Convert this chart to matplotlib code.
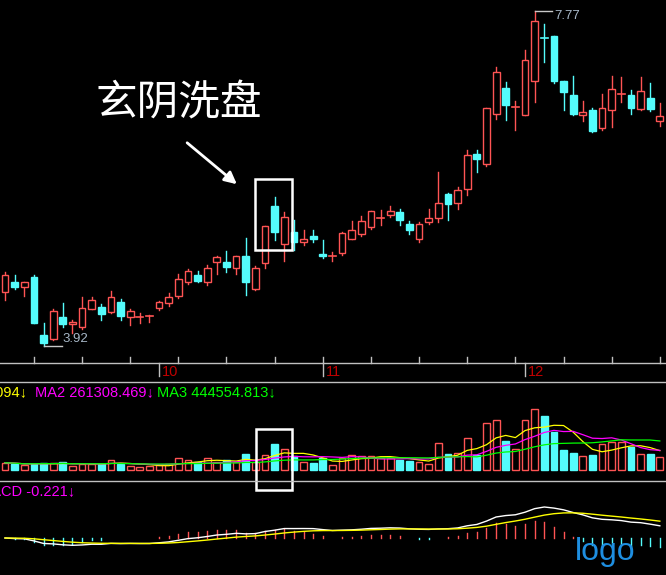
import matplotlib
matplotlib.use("Agg")
import matplotlib.pyplot as plt
from matplotlib.patches import Rectangle
import numpy as np
import pandas as pd

opens  = [4.54,4.66,4.60,4.71,4.05,4.00,4.25,4.17,4.14,4.35,4.37,4.31,4.43,4.25,4.24,4.25,4.36,4.42,4.49,4.66,
          4.74,4.66,4.89,4.89,4.82,4.95,4.57,4.87,5.53,5.09,5.23,5.11,5.18,4.98,4.94,4.99,5.15,5.21,5.29,5.38,
          5.43,5.46,5.32,5.15,5.35,5.39,5.67,5.56,5.72,6.13,6.01,6.59,6.89,6.66,6.58,6.97,7.47,7.48,6.97,6.81,
          6.58,6.63,6.43,6.63,6.81,6.81,6.64,6.77,6.51]
highs  = [4.77,4.74,4.66,4.74,4.18,4.35,4.41,4.22,4.48,4.48,4.40,4.55,4.46,4.35,4.30,4.28,4.44,4.53,4.75,4.80,
          4.78,4.85,4.95,5.01,4.96,5.16,4.84,5.30,5.63,5.46,5.37,5.25,5.25,5.14,5.00,5.23,5.36,5.41,5.47,5.48,
          5.53,5.50,5.36,5.35,5.50,5.92,5.68,5.75,6.17,6.17,6.66,7.13,6.95,6.74,7.32,7.77,7.62,7.48,6.97,7.02,
          6.74,6.66,6.82,7.02,7.01,6.86,7.01,6.94,6.71]
lows   = [4.45,4.58,4.49,4.19,3.92,3.99,4.14,4.07,4.12,4.34,4.22,4.30,4.22,4.16,4.19,4.20,4.33,4.38,4.47,4.63,
          4.65,4.62,4.75,4.77,4.75,4.51,4.56,4.82,5.14,4.90,5.02,5.08,5.11,4.93,4.90,4.97,5.15,5.19,5.26,5.31,
          5.40,5.31,5.21,5.11,5.32,5.34,5.37,5.49,5.66,5.92,5.99,6.53,6.52,6.40,6.57,6.73,7.18,6.94,6.63,6.57,
          6.51,6.38,6.40,6.44,6.73,6.59,6.63,6.62,6.45]
closes = [4.74,4.60,4.65,4.19,3.96,4.32,4.17,4.20,4.36,4.45,4.29,4.48,4.26,4.32,4.25,4.26,4.42,4.48,4.69,4.78,
          4.67,4.82,4.94,4.83,4.95,4.65,4.82,5.30,5.23,5.40,5.11,5.15,5.15,4.95,4.95,5.22,5.25,5.36,5.47,5.39,
          5.47,5.37,5.25,5.32,5.39,5.56,5.55,5.71,6.12,6.07,6.66,7.07,6.69,6.67,7.21,7.65,7.46,6.97,6.84,6.59,
          6.61,6.39,6.66,6.87,6.82,6.65,6.85,6.64,6.56]
volumes = [26,23,18,23,24,24,28,14,23,22,23,35,23,14,11,14,18,20,42,35,
           28,42,28,35,28,58,28,54,94,74,49,28,25,42,17,42,54,49,52,42,
           44,35,32,28,22,98,58,60,115,54,168,181,104,76,180,218,194,136,72,61,
           49,54,92,102,102,84,56,59,47]
month_labels = ["10", "11", "12"]
month_idx = [16, 33, 54]

W, H = 666, 575
RED, CYAN = "#ff5454", "#54fcfc"
fig = plt.figure(figsize=(W/100, H/100), dpi=100, facecolor="black")

def ax_px(y0, y1):
    a = fig.add_axes([0, 1 - y1/H, 1, (y1 - y0)/H])
    a.set_facecolor("black"); a.axis("off")
    a.set_xlim(-0.52, 68.64)
    return a

n = len(closes)
x = np.arange(n)
up = [c >= o for o, c in zip(opens, closes)]

# main
ax = ax_px(0, 363)
ax.set_ylim(3.92 - 17/87, 3.92 + 346/87)
for i in range(n):
    col = RED if up[i] else CYAN
    ax.plot([i, i], [lows[i], highs[i]], color=col, lw=1, zorder=1)
    b0, b1 = min(opens[i], closes[i]), max(opens[i], closes[i])
    if b1 - b0 < 0.012:
        ax.plot([i-0.35, i+0.35], [closes[i]]*2, color=col, lw=1.2, zorder=2)
    else:
        ax.add_patch(Rectangle((i-0.35, b0), 0.7, b1-b0, facecolor="black" if up[i] else CYAN,
                               edgecolor=col, lw=1, zorder=2))
imin = int(np.argmin(lows)); imax = int(np.argmax(highs))
ax.plot([imin, imin+1.9], [lows[imin]]*2, color="#c8c8c8", lw=1)
ax.text(imin+2.0, lows[imin]+0.01, f"{lows[imin]:.2f}", color="#a8b8c8", fontsize=9.5,
        va="bottom", family="Liberation Sans")
ax.plot([imax, imax+1.8], [highs[imax]]*2, color="#c8c8c8", lw=1)
ax.text(imax+2.0, highs[imax]+0.01, f"{highs[imax]:.2f}", color="#a8b8c8", fontsize=9.5,
        va="top", family="Liberation Sans")

# volume
av = ax_px(383, 480)
for i in range(n):
    if up[i]:
        av.add_patch(Rectangle((i-0.35, 0), 0.7, volumes[i], facecolor="black", edgecolor=RED, lw=1))
    else:
        av.add_patch(Rectangle((i-0.35, 0), 0.7, volumes[i], facecolor=CYAN, edgecolor=CYAN, lw=1))
vs = pd.Series(volumes, dtype=float)
av.plot(x, vs.rolling(5, min_periods=1).mean(), color="#ffff00", lw=0.9)
av.plot(x, vs.rolling(10, min_periods=1).mean(), color="#ff00ff", lw=0.9)
av.plot(x, vs.rolling(20, min_periods=1).mean(), color="#00ff00", lw=0.9)
av.set_ylim(-36, 313)

# macd
am = ax_px(481, 575)
cs = pd.Series(closes)
dif = cs.ewm(span=12, adjust=False).mean() - cs.ewm(span=26, adjust=False).mean()
dea = dif.ewm(span=9, adjust=False).mean()
hist = 2 * (dif - dea)
s = dif.max() / 31
am.set_ylim(-37*s, 57*s)
for i in range(n):
    am.plot([i, i], [0, hist[i]], color=RED if hist[i] >= 0 else CYAN, lw=1)
am.plot(x, dif, color="white", lw=1)
am.plot(x, dea, color="#ffff00", lw=1)

# figure-level decorations (pixel coords)
fx = lambda px: px / W
fy = lambda py: 1 - py / H
for yy in (363, 382, 481):
    fig.add_artist(plt.Line2D([0, 1], [fy(yy)]*2, color="#c0c0c0", lw=1))
for i in range(3, n, 5):
    xp = 5 + i*9.63
    fig.add_artist(plt.Line2D([fx(xp)]*2, [fy(363), fy(357)], color="#c0c0c0", lw=1))
for lab, i in zip(month_labels, month_idx):
    xp = 5 + i*9.63
    fig.add_artist(plt.Line2D([fx(xp)]*2, [fy(363), fy(376)], color="#c0c0c0", lw=1))
    fig.text(fx(xp + 3), fy(372), lab, color="#c00000", fontsize=10.5, va="center",
             family="Liberation Sans")

tf = ["Liberation Sans", "DejaVu Sans"]
fig.text(fx(27), fy(392), "MA1 185207.094↓", color="#ffff00", fontsize=10.5, ha="right", va="center", family=tf)
fig.text(fx(35), fy(392), "MA2 261308.469↓", color="#ff00ff", fontsize=10.5, va="center", family=tf)
fig.text(fx(157), fy(392), "MA3 444554.813↓", color="#00ff00", fontsize=10.5, va="center", family=tf)
fig.text(fx(75), fy(491), "MACD -0.221↓", color="#ff00ff", fontsize=10.5, ha="right", va="center", family=tf)

fig.text(fx(95), fy(104), "玄阴洗盘", color="white", fontsize=30, va="center",
         family=["Noto Sans CJK SC", "DejaVu Sans"])
fig.add_artist(plt.Annotation("", xy=(fx(239), fy(186)), xytext=(fx(185), fy(141)),
               xycoords="figure fraction", textcoords="figure fraction",
               arrowprops=dict(arrowstyle="-|>", color="white", lw=2, mutation_scale=18)))
for (x0, y0, x1, y1) in [(255, 179, 292, 250), (256, 429, 292, 490)]:
    fig.add_artist(Rectangle((fx(x0), fy(y1)), fx(x1-x0), (y1-y0)/H, transform=fig.transFigure,
                             fill=False, edgecolor="white", lw=1.8))
fig.text(fx(575), fy(552), "logo", color="#1e8ee0", fontsize=23, va="center", family="Liberation Sans")

fig.savefig("out.png", dpi=100, facecolor="black")
